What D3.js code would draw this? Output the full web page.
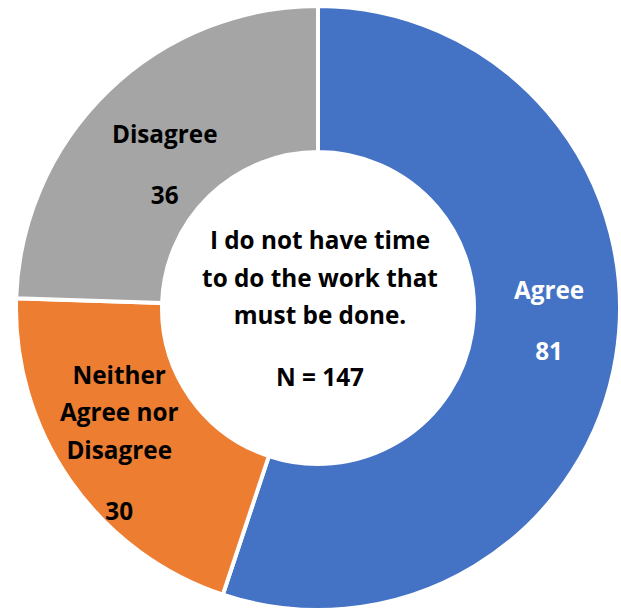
<!DOCTYPE html>
<html>
<head>
<meta charset="utf-8">
<script src="https://cdn.jsdelivr.net/npm/d3@7"></script>
<style>
  html, body { margin: 0; padding: 0; background: #fff; }
  svg { display: block; }
  text { font-family: "Open Sans", Lato, sans-serif; font-weight: bold; }
</style>
</head>
<body>
<svg id="chart" width="621" height="609"></svg>
<script>
const categories = ["Agree", "Neither Agree nor Disagree", "Disagree"];
const values = [81, 30, 36];
const labelLines = [["Agree"], ["Neither", "Agree nor", "Disagree"], ["Disagree"]];
const colors = ["#4472C4", "#ED7D31", "#A5A5A5"];
const labelColors = ["#FFFFFF", "#000000", "#000000"];
const titleLines = ["I do not have time", "to do the work that", "must be done."];
const nLabel = "N = 147";

const svg = d3.select("#chart");
const cx = 318, cy = 308, R = 302, r = 156;
const g = svg.append("g").attr("transform", `translate(${cx},${cy})`);

const probe = svg.append("text").attr("font-size", 100).text(titleLines[1]);
const w100 = probe.node().getComputedTextLength();
probe.remove();
const fs = Math.min(26, 100 * 236 / w100);

const data = categories.map((c, i) => ({ cat: c, value: values[i], i }));
const pie = d3.pie().value(d => d.value).sort(null);
const arcs = pie(data);
const arc = d3.arc().innerRadius(r).outerRadius(R);

g.selectAll("path").data(arcs).join("path")
  .attr("d", arc)
  .attr("fill", d => colors[d.data.i])
  .attr("stroke", "#fff")
  .attr("stroke-width", 4)
  .attr("stroke-linejoin", "miter");

const offsets = [[5, -24], [-11, 4], [6, 21]];
const lineH = 37.5;
arcs.forEach(a => {
  const i = a.data.i;
  const [x0, y0] = arc.centroid(a);
  const x = x0 + offsets[i][0];
  const lines = labelLines[i];
  const nLines = lines.length;
  const totalH = (nLines - 1) * lineH + 61;
  const top = y0 + offsets[i][1] - totalH / 2;
  const t = g.append("text").attr("text-anchor", "middle")
    .attr("fill", labelColors[i]).attr("font-size", fs);
  lines.forEach((ln, k) => {
    t.append("tspan").attr("x", x).attr("y", top + k * lineH + 8.5).text(ln);
  });
  g.append("text").attr("text-anchor", "middle")
    .attr("fill", labelColors[i]).attr("font-size", fs)
    .attr("x", x).attr("y", top + (nLines - 1) * lineH + 61 + 8.5)
    .text(a.data.value);
});

const ct = g.append("text").attr("text-anchor", "middle").attr("fill", "#000").attr("font-size", fs);
titleLines.forEach((ln, k) => {
  ct.append("tspan").attr("x", 2).attr("y", 249 - cy + k * 37.5).text(ln);
});
g.append("text").attr("text-anchor", "middle").attr("fill", "#000").attr("font-size", fs)
  .attr("x", 2).attr("y", 386 - cy).text(nLabel);
</script>
</body>
</html>
